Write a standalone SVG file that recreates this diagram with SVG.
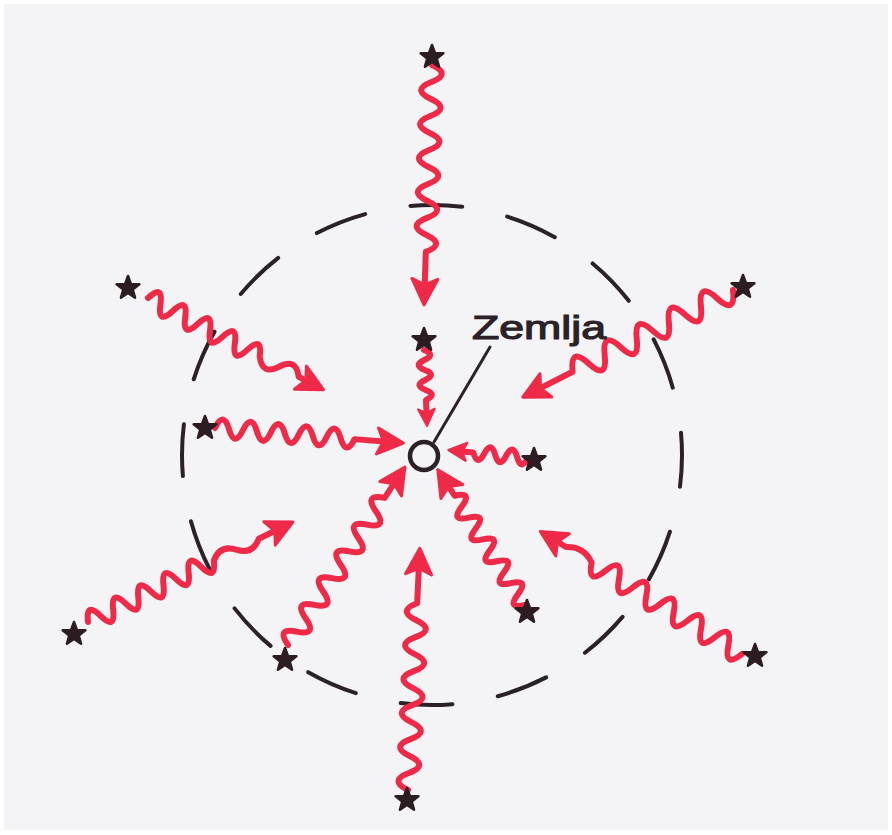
<svg xmlns="http://www.w3.org/2000/svg" width="892" height="835" viewBox="0 0 892 835">
<style>
.ink{fill:none;stroke:#2b2228;stroke-linecap:round}
.wave{fill:none;stroke:#ef2a48;stroke-width:6;stroke-linecap:round;stroke-linejoin:round}
.head{fill:#ef2a48;stroke:#ef2a48;stroke-width:3;stroke-linejoin:round}
.star{fill:#2b1d22;stroke:#2b1d22;stroke-width:2.5;stroke-linejoin:round}
.lbl{font-family:"Liberation Sans","DejaVu Sans",sans-serif;font-size:34px;fill:#2b2228;stroke:#2b2228;stroke-width:1.2}
</style>
<defs>
<polygon id="st" class="star" points="0,-12 2.94,-4.05 11.41,-3.71 4.76,1.55 7.05,9.71 0,5 -7.05,9.71 -4.76,1.55 -11.41,-3.71 -2.94,-4.05"/>
<path id="hd" class="head" d="M0,0 L-26,-13 L-20,0 L-26,13 Z"/>
</defs>
<rect x="0" y="0" width="892" height="835" fill="#ffffff"/>
<rect x="4" y="4" width="884" height="826" fill="#f4f4f6"/>

<g id="horizon">
<circle class="ink" cx="432" cy="455" r="250" stroke-width="4" stroke-dasharray="52 46" stroke-dashoffset="20"/>
</g>

<g id="connectors">
<g transform="translate(432,65) rotate(91.9)">
<path class="wave" d="M0,0 q8.5,-20 17,0 t17,0 t17,0 t17,0 t17,0 t17,0 t17,0 t17,0 t17,0 t17,0 t17,0 L222,0"/>
<use href="#hd" x="240"/>
</g>
<g transform="translate(424,350) rotate(87.7)">
<path class="wave" d="M0,0 q5,-12 10,0 t10,0 t10,0 t10,0 t10,0 L62,0"/>
<g transform="translate(76,0) scale(0.65)"><use href="#hd"/></g>
</g>
<g transform="translate(148,298) rotate(27.6)">
<path class="wave" d="M0,0 q7,-20 14,0 t14,0 t14,0 t14,0 t14,0 t14,0 t14,0 t14,0 t14,0 q11,16 22,0 t22,0 L181,0"/>
<use href="#hd" x="198"/>
</g>
<g transform="translate(215,428) rotate(4.56)">
<path class="wave" d="M0,0 q7,-18 14,0 t14,0 t14,0 t14,0 t14,0 t14,0 t14,0 t14,0 t14,0 t14,0 L172,0"/>
<use href="#hd" x="189"/>
</g>
<g transform="translate(88,622) rotate(-26)">
<path class="wave" d="M0,0 q7,-20 14,0 t14,0 t14,0 t14,0 t14,0 t14,0 t14,0 t14,0 t14,0 t14,0 q12.5,-12 25,0 t25,0 L211,0"/>
<use href="#hd" x="228"/>
</g>
<g transform="translate(288,645) rotate(-56.7)">
<path class="wave" d="M0,0 q8,-20 16,0 t16,0 t16,0 t16,0 t16,0 t16,0 t16,0 t16,0 t16,0 t16,0 t16,0 L196,0"/>
<use href="#hd" x="213"/>
</g>
<g transform="translate(408,790) rotate(-87.2)">
<path class="wave" d="M0,0 q8.5,-20 17,0 t17,0 t17,0 t17,0 t17,0 t17,0 t17,0 t17,0 t17,0 t17,0 t17,0 L225,0"/>
<use href="#hd" x="242"/>
</g>
<g transform="translate(525,605) rotate(-122.8)">
<path class="wave" d="M0,0 q6.5,-18 13,0 t13,0 t13,0 t13,0 t13,0 t13,0 t13,0 t13,0 t13,0 t13,0 L144,0"/>
<use href="#hd" x="161"/>
</g>
<g transform="translate(528,458) rotate(-174.3)">
<path class="wave" d="M0,0 q5.5,-14 11,0 t11,0 t11,0 t11,0 t11,0 L66,0"/>
<g transform="translate(80,0) scale(0.7)"><use href="#hd"/></g>
</g>
<g transform="translate(733,290) rotate(153)">
<path class="wave" d="M0,0 q9,-24 18,0 t18,0 t18,0 t18,0 t18,0 t18,0 t18,0 t18,0 t18,0 t18,0 L219,0"/>
<use href="#hd" x="236"/>
</g>
<g transform="translate(742,654) rotate(-148.7)">
<path class="wave" d="M0,0 q8,-22 16,0 t16,0 t16,0 t16,0 t16,0 t16,0 t16,0 t16,0 t16,0 t16,0 t16,0 q15,10 30,0 L219,0"/>
<use href="#hd" x="236"/>
</g>
<line class="ink" x1="434" y1="442" x2="490" y2="347" stroke-width="3"/>
</g>

<g id="star-top"><use href="#st" x="432" y="57"/></g>
<g id="star-inner-top"><use href="#st" x="424" y="340"/></g>
<g id="star-upper-left"><use href="#st" x="128" y="288"/></g>
<g id="star-left"><use href="#st" x="205" y="428"/></g>
<g id="star-lower-left"><use href="#st" x="74" y="634"/></g>
<g id="star-lower-left-inner"><use href="#st" x="285" y="660"/></g>
<g id="star-bottom"><use href="#st" x="407" y="800"/></g>
<g id="star-inner-bottom-right"><use href="#st" x="527" y="612"/></g>
<g id="star-right-inner"><use href="#st" x="534" y="460"/></g>
<g id="star-upper-right"><use href="#st" x="743" y="287"/></g>
<g id="star-lower-right"><use href="#st" x="755" y="656"/></g>

<g id="earth">
<circle cx="424" cy="456" r="14" fill="#f4f4f6" stroke="#2b2228" stroke-width="4.5"/>
</g>
<g id="label-zemlja">
<text class="lbl" x="472" y="339" textLength="134" lengthAdjust="spacingAndGlyphs">Zemlja</text>
</g>
</svg>
